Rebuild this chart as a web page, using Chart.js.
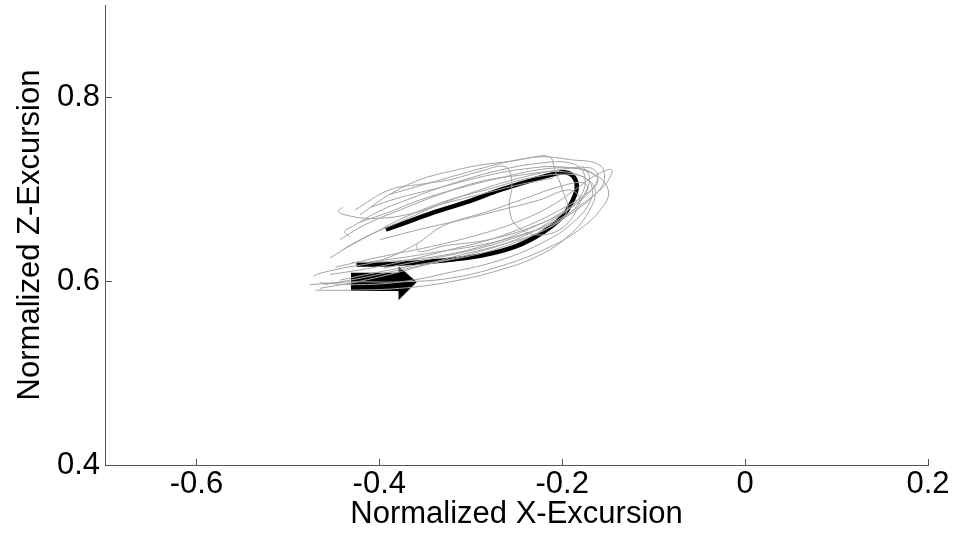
<!DOCTYPE html>
<html>
<head>
<meta charset="utf-8">
<script src="https://cdn.jsdelivr.net/npm/chart.js@4"></script>
<style>
  html, body { margin: 0; padding: 0; background: #fff; }
  #wrap { position: relative; width: 955px; height: 536px; }
</style>
</head>
<body>
<div id="wrap"><canvas id="excursion"></canvas></div>
<script>
// axis ticks
const xTicks = [-0.6, -0.4, -0.2, 0, 0.2];
const yTicks = [0.4, 0.6, 0.8];

// individual cycles (grey), [x, z]
const cycle1 = [[-0.454,0.625],[-0.421,0.645],[-0.378,0.664],[-0.334,0.683],[-0.290,0.699],[-0.246,0.712],[-0.203,0.721],[-0.170,0.723],[-0.161,0.715],[-0.168,0.699],[-0.186,0.683],[-0.214,0.664],[-0.246,0.647],[-0.290,0.632],[-0.334,0.621],[-0.378,0.612],[-0.421,0.603],[-0.460,0.596]];
const cycle2 = [[-0.470,0.590],[-0.432,0.590],[-0.378,0.592],[-0.323,0.599],[-0.268,0.612],[-0.225,0.628],[-0.192,0.650],[-0.170,0.677],[-0.164,0.699],[-0.175,0.712],[-0.203,0.719],[-0.246,0.715],[-0.290,0.708],[-0.334,0.694],[-0.378,0.677],[-0.416,0.661],[-0.443,0.645]];
const cycle3 = [[-0.421,0.672],[-0.389,0.694],[-0.356,0.710],[-0.323,0.719],[-0.290,0.726],[-0.257,0.730],[-0.225,0.735],[-0.192,0.732],[-0.159,0.726],[-0.154,0.710],[-0.164,0.694],[-0.192,0.672],[-0.225,0.653],[-0.268,0.636],[-0.312,0.625],[-0.356,0.618],[-0.399,0.610],[-0.443,0.601]];
const cycle4 = [[-0.454,0.607],[-0.410,0.614],[-0.367,0.623],[-0.323,0.634],[-0.279,0.645],[-0.236,0.661],[-0.203,0.677],[-0.175,0.694],[-0.161,0.708],[-0.170,0.719],[-0.192,0.723],[-0.225,0.721],[-0.268,0.712],[-0.312,0.701],[-0.356,0.688],[-0.389,0.675],[-0.421,0.664]];
const cycle5 = [[-0.427,0.677],[-0.389,0.699],[-0.356,0.705],[-0.323,0.710],[-0.290,0.719],[-0.262,0.724],[-0.255,0.705],[-0.258,0.680],[-0.250,0.660],[-0.225,0.650],[-0.197,0.660],[-0.178,0.690],[-0.170,0.712],[-0.178,0.725]];
const cycle6 = [[-0.399,0.645],[-0.356,0.656],[-0.312,0.666],[-0.268,0.677],[-0.225,0.688],[-0.192,0.699],[-0.181,0.688],[-0.203,0.666],[-0.246,0.650],[-0.290,0.639],[-0.334,0.632],[-0.378,0.625],[-0.410,0.621]];
const cycle7 = [[-0.476,0.596],[-0.432,0.599],[-0.378,0.599],[-0.323,0.603],[-0.268,0.616],[-0.220,0.634],[-0.181,0.656],[-0.154,0.683],[-0.150,0.700],[-0.165,0.716],[-0.200,0.724],[-0.240,0.722],[-0.285,0.714],[-0.340,0.700],[-0.380,0.690],[-0.410,0.680]];
const cycle8 = [[-0.389,0.694],[-0.340,0.708],[-0.290,0.722],[-0.262,0.729],[-0.240,0.733],[-0.214,0.735],[-0.208,0.720],[-0.200,0.700],[-0.195,0.675],[-0.220,0.655],[-0.265,0.640],[-0.320,0.626],[-0.370,0.612],[-0.420,0.600],[-0.465,0.592]];
const cycle9 = [[-0.440,0.680],[-0.445,0.676],[-0.438,0.672],[-0.410,0.668],[-0.370,0.672],[-0.330,0.684],[-0.290,0.694],[-0.250,0.704],[-0.210,0.712]];
const cycle10 = [[-0.472,0.605],[-0.466,0.608],[-0.440,0.614],[-0.400,0.622],[-0.360,0.640],[-0.330,0.660],[-0.280,0.676],[-0.240,0.690],[-0.205,0.702],[-0.178,0.707],[-0.172,0.700],[-0.190,0.680],[-0.230,0.660],[-0.280,0.645],[-0.330,0.638],[-0.356,0.632],[-0.360,0.640]];
const cycle11 = [[-0.465,0.598],[-0.420,0.596],[-0.370,0.600],[-0.320,0.610],[-0.270,0.622],[-0.225,0.640],[-0.190,0.662],[-0.168,0.690],[-0.172,0.710],[-0.195,0.716],[-0.235,0.712],[-0.280,0.700],[-0.330,0.686],[-0.375,0.668],[-0.410,0.650],[-0.440,0.634]];
const cycle12 = [[-0.448,0.615],[-0.400,0.626],[-0.350,0.636],[-0.300,0.648],[-0.255,0.662],[-0.215,0.680],[-0.185,0.700],[-0.165,0.714],[-0.146,0.721],[-0.152,0.706],[-0.175,0.686],[-0.210,0.664],[-0.255,0.646],[-0.305,0.632],[-0.355,0.622],[-0.395,0.614]];
const cycle13 = [[-0.430,0.620],[-0.380,0.622],[-0.330,0.628],[-0.280,0.640],[-0.240,0.655],[-0.205,0.672],[-0.180,0.692],[-0.176,0.716],[-0.190,0.728],[-0.225,0.728],[-0.270,0.720],[-0.320,0.706],[-0.365,0.690],[-0.400,0.676],[-0.428,0.660],[-0.438,0.654],[-0.432,0.648]];

// mean cycle (black)
const meanCycle = [[-0.393,0.656],[-0.378,0.661],[-0.342,0.674],[-0.304,0.686],[-0.268,0.699],[-0.232,0.710],[-0.210,0.716],[-0.196,0.718],[-0.188,0.714],[-0.184,0.703],[-0.188,0.689],[-0.199,0.671],[-0.221,0.653],[-0.250,0.638],[-0.287,0.628],[-0.323,0.623],[-0.359,0.620],[-0.396,0.618],[-0.425,0.618]];

// direction arrow outline
const arrowShape = [[-0.431,0.609],[-0.379,0.609],[-0.379,0.616],[-0.359,0.599],[-0.379,0.579],[-0.379,0.589],[-0.431,0.589],[-0.431,0.609]];

const cycles = [cycle1, cycle2, cycle3, cycle4, cycle5, cycle6, cycle7, cycle8, cycle9, cycle10, cycle11, cycle12, cycle13];
const toXY = arr => arr.map(p => ({ x: p[0], y: p[1] }));

const datasets = cycles.map(c => ({
  data: toXY(c),
  showLine: true,
  borderColor: "#a3a3a3",
  borderWidth: 1,
  pointRadius: 0,
  tension: 0.4,
  fill: false
}));
datasets.push({
  data: toXY(meanCycle),
  showLine: true,
  borderColor: "#000",
  borderWidth: 4.5,
  pointRadius: 0,
  tension: 0.4,
  fill: false
});
datasets.push({
  data: toXY(arrowShape),
  showLine: true,
  borderColor: "#000",
  backgroundColor: "#000",
  borderWidth: 0,
  pointRadius: 0,
  tension: 0,
  fill: "shape"
});

// small inward tick marks like the original plot
const innerTicks = {
  id: "innerTicks",
  afterDraw(chart) {
    const { ctx, chartArea, scales } = chart;
    ctx.save();
    ctx.strokeStyle = "#555";
    ctx.lineWidth = 1;
    ctx.beginPath();
    xTicks.forEach(v => {
      const px = Math.round(scales.x.getPixelForValue(v)) + 0.5;
      ctx.moveTo(px, chartArea.bottom);
      ctx.lineTo(px, chartArea.bottom - 6);
    });
    yTicks.forEach(v => {
      const py = Math.round(scales.y.getPixelForValue(v)) + 0.5;
      ctx.moveTo(chartArea.left, py);
      ctx.lineTo(chartArea.left + 7, py);
    });
    ctx.stroke();
    ctx.restore();
  }
};

const fontFam = "'Liberation Sans', Arial, sans-serif";

new Chart(document.getElementById("excursion"), {
  type: "scatter",
  data: { datasets: datasets },
  plugins: [innerTicks],
  options: {
    responsive: true,
    maintainAspectRatio: false,
    animation: false,
    layout: { padding: { top: 5, right: 27, left: 0, bottom: 0 } },
    plugins: { legend: { display: false }, tooltip: { enabled: false } },
    scales: {
      x: {
        type: "linear",
        min: -0.7,
        max: 0.2,
        afterBuildTicks: s => { s.ticks = xTicks.map(v => ({ value: v })); },
        afterFit: s => { s.height = 71; s.paddingLeft = 0; s.paddingRight = 0; },
        grid: { display: true, drawOnChartArea: false, drawTicks: false },
        border: { display: true, color: "#555", width: 1 },
        ticks: { color: "#000", padding: 1, font: { family: fontFam, size: 31 }, maxRotation: 0,
          callback: v => String(Math.round(v * 10) / 10) },
        title: { display: true, text: "Normalized X-Excursion", color: "#000",
          font: { family: fontFam, size: 31 }, padding: { top: 0, bottom: 3 } }
      },
      y: {
        type: "linear",
        min: 0.4,
        max: 0.9,
        afterBuildTicks: s => { s.ticks = yTicks.map(v => ({ value: v })); },
        afterFit: s => { s.width = 105; s.paddingTop = 0; s.paddingBottom = 0; },
        grid: { display: true, drawOnChartArea: false, drawTicks: false },
        border: { display: true, color: "#555", width: 1 },
        ticks: { color: "#000", padding: 5, font: { family: fontFam, size: 31 },
          callback: v => String(Math.round(v * 10) / 10) },
        title: { display: true, text: "Normalized Z-Excursion", color: "#000",
          font: { family: fontFam, size: 31 }, padding: { top: 12, bottom: 0 } }
      }
    }
  }
});
</script>
</body>
</html>
